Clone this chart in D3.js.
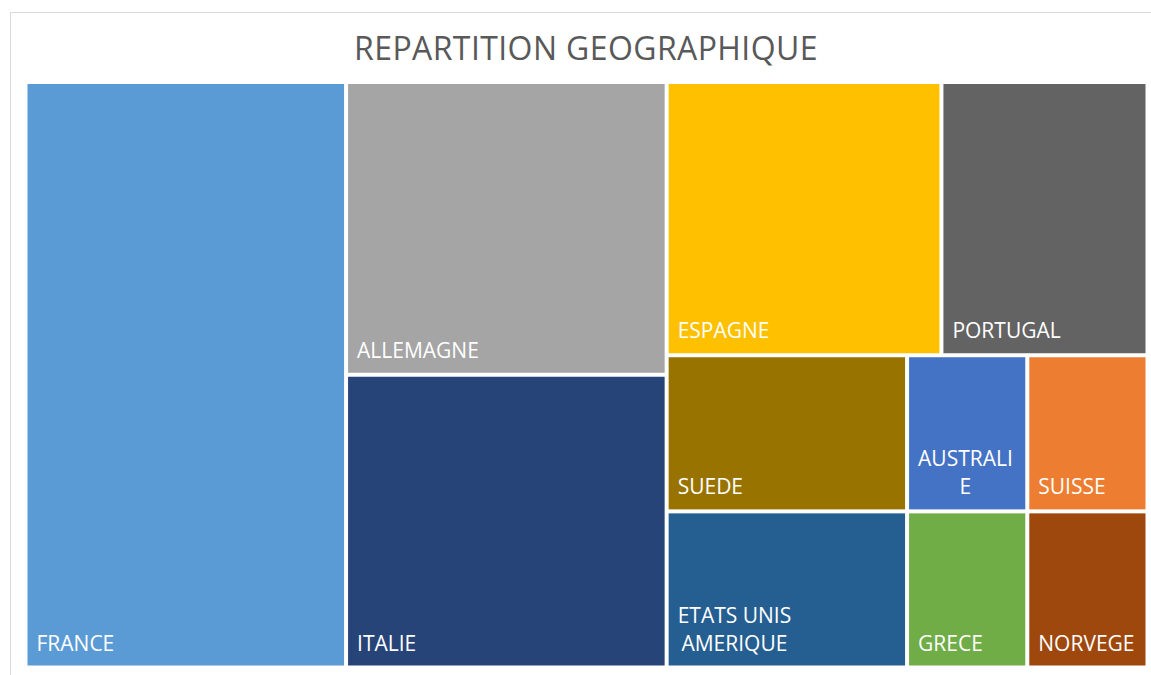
<!DOCTYPE html>
<html>
<head>
<meta charset="utf-8">
<script src="https://cdn.jsdelivr.net/npm/d3@7"></script>
<style>
  html, body { margin: 0; padding: 0; background: #fff; }
  svg { display: block; }
  text { font-family: "Open Sans", "Noto Sans", sans-serif; }
</style>
</head>
<body>
<svg id="chart" width="1151" height="675"></svg>
<script>
const title = "REPARTITION GEOGRAPHIQUE";
const categories = ["FRANCE", "ALLEMAGNE", "ITALIE", "ESPAGNE", "PORTUGAL", "SUEDE", "ETATS UNIS AMERIQUE", "AUSTRALIE", "SUISSE", "GRECE", "NORVEGE"];
const values = [10, 5, 5, 4, 3, 2, 2, 1, 1, 1, 1];
const colors = ["#5B9BD5", "#A5A5A5", "#264478", "#FFC000", "#636363", "#997300", "#255E91", "#4472C4", "#ED7D31", "#70AD47", "#9E480E"];

const svg = d3.select("#chart");

// chart border
svg.append("rect")
  .attr("x", 10.5).attr("y", 12.5)
  .attr("width", 1150).attr("height", 680)
  .attr("fill", "#fff").attr("stroke", "#D9D9D9").attr("stroke-width", 1);

svg.append("text")
  .attr("x", 586).attr("y", 60)
  .attr("text-anchor", "middle")
  .attr("font-size", 32)
  .attr("letter-spacing", 0.4)
  .attr("fill", "#595959")
  .text(title);

const plot = { x: 27.5, y: 84, w: 1118, h: 581.5 };

const data = categories.map((c, i) => ({ name: c, value: values[i], color: colors[i] }));
const root = d3.hierarchy({ children: data }).sum(d => d.value || 0)
  .sort((a, b) => b.value - a.value);

d3.treemap()
  .tile(d3.treemapSquarify.ratio(1))
  .size([plot.w, plot.h])
  .paddingInner(4)
  .round(false)(root);

const g = svg.append("g").attr("transform", `translate(${plot.x},${plot.y})`);
const leaves = g.selectAll("g.leaf").data(root.leaves()).join("g").attr("class", "leaf");

leaves.append("rect")
  .attr("x", d => d.x0).attr("y", d => d.y0)
  .attr("width", d => d.x1 - d.x0).attr("height", d => d.y1 - d.y0)
  .attr("fill", d => d.data.color);

const fontSize = 21, lineH = 28, padX = 9, padBottom = 15;

leaves.each(function(d) {
  const sel = d3.select(this);
  const avail = (d.x1 - d.x0) - padX - 6;
  const meas = sel.append("text").attr("font-size", fontSize).attr("visibility", "hidden");
  const width = s => { meas.text(s); return meas.node().getComputedTextLength(); };
  const words = d.data.name.split(" ");
  const lines = [];
  let cur = "";
  words.forEach(w => {
    const trial = cur ? cur + " " + w : w;
    if (width(trial) <= avail) { cur = trial; return; }
    if (cur) { lines.push(cur); cur = ""; }
    let part = "";
    for (const ch of w) {
      if (width(part + ch) <= avail || part === "") part += ch;
      else { lines.push(part); part = ch; }
    }
    cur = part;
  });
  if (cur) lines.push(cur);
  const maxW = d3.max(lines, l => width(l));
  meas.remove();
  const cx = d.x0 + padX + maxW / 2;
  const lastBase = d.y1 - padBottom;
  sel.append("text")
    .attr("font-size", fontSize)
    .attr("fill", "#fff")
    .attr("text-anchor", "middle")
    .selectAll("tspan").data(lines).join("tspan")
    .attr("x", cx)
    .attr("y", (l, i) => lastBase - (lines.length - 1 - i) * lineH)
    .text(l => l);
});
</script>
</body>
</html>
